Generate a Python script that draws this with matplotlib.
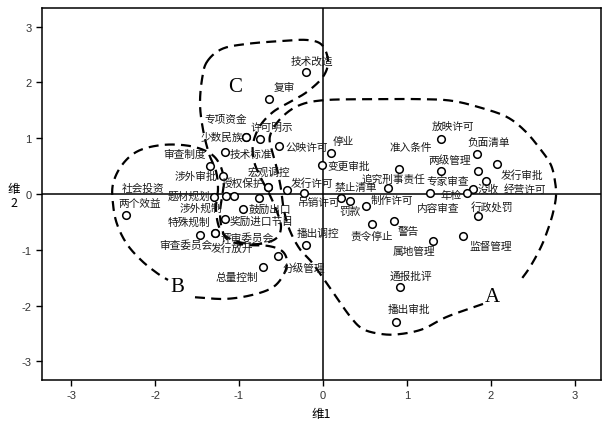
import matplotlib
matplotlib.use("Agg")
import matplotlib.pyplot as plt
import numpy as np

plt.rcParams['font.family'] = ['Noto Sans CJK SC', 'DejaVu Sans']

# Policy-term coordinates on the two MDS dimensions
terms = ["技术改造", "复审", "专项资金", "少数民族", "许可明示", "公映许可", "技术标准",
         "停业", "变更审批", "审查制度", "涉外审批", "宏观调控", "授权保护", "发行许可",
         "吊销许可", "题材规划", "社会投资", "涉外规制", "两个效益", "鼓励出口",
         "奖励进口节目", "特殊规制", "审查委员会", "发行放开", "评审委员会", "分级管理",
         "总量控制", "播出调控", "准入条件", "放映许可", "负面清单", "两级管理",
         "发行审批", "专家审查", "经营许可", "没收", "年检", "内容审查", "追究刑事责任",
         "行政处罚", "监督管理", "属地管理", "警告", "责令停止", "制作许可", "罚款",
         "禁止清单", "通报批评", "播出审批"]
dim1 = [-0.20, -0.64, -0.92, -0.92, -0.75, -0.52, -1.17,
        0.09, -0.01, -1.34, -1.19, -0.66, -0.66, -0.43,
        -0.23, -1.30, -1.15, -1.06, -2.34, -0.95,
        -1.17, -1.29, -1.46, -1.29, -0.76, -0.54,
        -0.72, -0.20, 0.90, 1.41, 1.83, 1.41,
        2.07, 1.85, 1.94, 1.79, 1.71, 1.27, 0.77,
        1.84, 1.67, 1.31, 0.85, 0.58, 0.51, 0.32,
        0.22, 0.92, 0.87]
dim2 = [2.19, 1.70, 1.03, 1.03, 0.98, 0.86, 0.75,
        0.74, 0.52, 0.51, 0.33, 0.12, 0.12, 0.07,
        0.02, -0.06, -0.03, -0.03, -0.38, -0.27,
        -0.45, -0.69, -0.73, -0.69, -0.08, -1.11,
        -1.30, -0.91, 0.44, 0.99, 0.72, 0.42,
        0.53, 0.42, 0.24, 0.09, 0.02, 0.02, 0.10,
        -0.39, -0.76, -0.85, -0.48, -0.54, -0.21, -0.12,
        -0.08, -1.67, -2.30]

# label placement relative to each point (pixels)
label_offsets = [(6, 11), (15, 12), (-20, 18), (-24, 0), (12, 12), (27, -1), (26, -2),
                 (13, 12), (27, -1), (-26, 12), (-27, 0), (1, 16), (-25, 5), (25, 8),
                 (15, -9), (-25, 2), (-83, 8), (-33, -12), (13, 12), (27, 0),
                 (37, -2), (-26, 11), (-15, -10), (17, -15), (-12, -39), (26, -11),
                 (-26, -10), (12, 12), (12, 22), (12, 13), (12, 12), (8, 11),
                 (25, -10), (-31, -10), (39, -8), (15, 0), (-15, -2), (9, -15), (6, 10),
                 (14, 10), (27, -10), (-19, -10), (14, -10), (0, -12), (26, 6), (0, -10),
                 (14, 11), (11, 12), (13, 13)]

# hand-drawn cluster outlines (dimension units)
cluster_a = [(1.905, -1.97), (1.476, -2.20), (1.19, -2.42), (0.917, -2.51), (0.702, -2.51),
             (0.476, -2.42), (0.321, -2.19), (0.119, -1.76), (-0.119, -1.25), (-0.274, -0.99),
             (-0.393, -0.66), (-0.464, -0.30), (-0.50, 0.09), (-0.548, 0.45), (-0.607, 0.77),
             (-0.631, 1.04), (-0.512, 1.34), (-0.298, 1.58), (0.0, 1.68), (0.56, 1.70),
             (1.155, 1.70), (1.536, 1.67), (1.893, 1.54), (2.19, 1.38), (2.405, 1.13),
             (2.595, 0.79), (2.714, 0.52), (2.762, 0.23), (2.774, -0.04), (2.738, -0.34),
             (2.679, -0.63), (2.595, -0.95), (2.464, -1.31), (2.345, -1.56)]
cluster_b = [(-1.524, -1.85), (-1.167, -1.88), (-0.845, -1.81), (-0.595, -1.67), (-0.464, -1.43),
             (-0.429, -1.20), (-0.488, -1.02), (-0.655, -0.93), (-0.929, -0.91), (-1.131, -0.82),
             (-1.202, -0.63), (-1.226, -0.34), (-1.202, -0.05), (-1.179, 0.23), (-1.226, 0.52),
             (-1.345, 0.73), (-1.583, 0.86), (-1.905, 0.88), (-2.202, 0.77), (-2.393, 0.52),
             (-2.5, 0.18), (-2.5, -0.18), (-2.452, -0.54), (-2.333, -0.90), (-2.155, -1.20),
             (-1.964, -1.43), (-1.845, -1.54)]
cluster_c = [(-1.381, 2.37), (-1.202, 2.60), (-0.905, 2.69), (-0.512, 2.74), (-0.19, 2.76),
             (-0.012, 2.67), (0.06, 2.38), (0.0, 2.10), (-0.19, 1.83), (-0.393, 1.65),
             (-0.595, 1.47), (-0.75, 1.22), (-0.833, 0.90), (-0.821, 0.59), (-0.75, 0.32),
             (-0.655, 0.05), (-0.56, -0.27), (-0.50, -0.59), (-0.571, -0.81), (-0.81, -0.90),
             (-1.083, -0.82), (-1.226, -0.63), (-1.274, -0.27), (-1.25, 0.09), (-1.274, 0.41),
             (-1.357, 0.72), (-1.429, 1.16), (-1.464, 1.61), (-1.44, 2.06)]
cluster_names = ["A", "B", "C"]
cluster_name_pos = [(2.02, -1.83), (-1.738, -1.65), (-1.048, 1.92)]


def smooth(points, closed, n=20):
    """Catmull-Rom interpolation through the outline vertices."""
    p = np.asarray(points, float)
    if closed:
        p = np.vstack([p[-1], p, p[0], p[1]])
    else:
        p = np.vstack([2 * p[0] - p[1], p, 2 * p[-1] - p[-2]])
    out = []
    for i in range(1, len(p) - 2):
        p0, p1, p2, p3 = p[i - 1], p[i], p[i + 1], p[i + 2]
        t = np.linspace(0, 1, n, endpoint=False)[:, None]
        seg = 0.5 * ((2 * p1) + (-p0 + p2) * t + (2 * p0 - 5 * p1 + 4 * p2 - p3) * t ** 2
                     + (-p0 + 3 * p1 - 3 * p2 + p3) * t ** 3)
        out.append(seg)
    out.append(p[-2][None, :])
    return np.vstack(out)


fig = plt.figure(figsize=(6.03, 4.27), dpi=100)
ax = fig.add_axes([0.0697, 0.1077, 0.9270, 0.8712])

ax.axhline(0, color='black', lw=1.1, zorder=1)
ax.axvline(0, color='black', lw=1.1, zorder=1)

ax.scatter(dim1, dim2, s=30, facecolors='white', edgecolors='black', linewidths=1.1, zorder=3)

for term, x, y, (dx, dy) in zip(terms, dim1, dim2, label_offsets):
    ax.annotate(term, (x, y), xytext=(dx, dy), textcoords='offset pixels',
                ha='center', va='center', fontsize=7.7, color='#1a1a1a', zorder=4)

for outline, closed in ((cluster_a, False), (cluster_b, False), (cluster_c, True)):
    curve = smooth(outline, closed)
    ax.plot(curve[:, 0], curve[:, 1], color='black', lw=1.6, ls=(0, (4.5, 2.8)), zorder=2)

for name, (x, y) in zip(cluster_names, cluster_name_pos):
    ax.text(x, y, name, fontsize=15, family='Liberation Serif', ha='center', va='center')

ax.set_xlim(-3.345, 3.31)
ax.set_ylim(-3.333, 3.333)
ticks = [-3, -2, -1, 0, 1, 2, 3]
ax.set_xticks(ticks)
ax.set_yticks(ticks)
ax.set_xticklabels([str(t) for t in ticks], family='Liberation Sans', fontsize=8)
ax.set_yticklabels([str(t) for t in ticks], family='Liberation Sans', fontsize=8)
ax.tick_params(direction='out', length=4, width=1, colors='black', labelcolor='#333333')
for s in ax.spines.values():
    s.set_linewidth(1.1)

ax.set_xlabel("维1", fontsize=9, labelpad=5)
fig.text(0.023, 0.54, "维\n2", fontsize=9, ha='center', va='center', linespacing=1.1)

fig.savefig("out.png", dpi=100)
